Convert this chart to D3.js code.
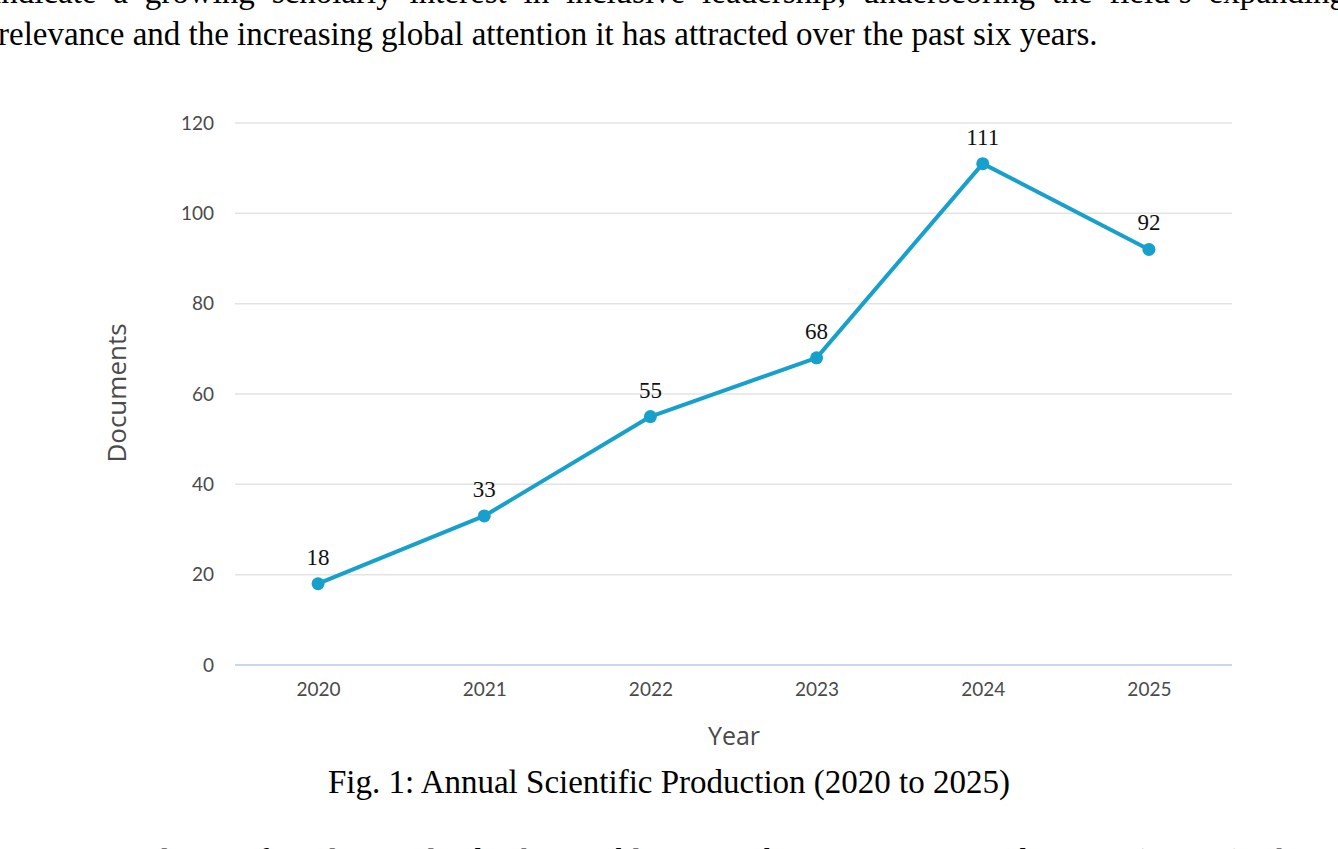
<!DOCTYPE html>
<html>
<head>
<meta charset="utf-8">
<script src="https://cdn.jsdelivr.net/npm/d3@7"></script>
<style>
  body { margin: 0; background: #fff; width: 1338px; height: 849px; overflow: hidden; position: relative; }
  #chart { position: absolute; left: 0; top: 0; }
</style>
</head>
<body>
<div id="chart"></div>
<script>
const years = ["2020", "2021", "2022", "2023", "2024", "2025"];
const documents = [18, 33, 55, 68, 111, 92];
const yTicks = [0, 20, 40, 60, 80, 100, 120];

const topLine1 = "indicate a growing scholarly interest in inclusive leadership, underscoring the field\u2019s expanding";
const topLine2 = "relevance and the increasing global attention it has attracted over the past six years.";
const captionText = "Fig. 1: Annual Scientific Production (2020 to 2025)";
const bottomLine = "An analysis of inclusive leadership publications between 2020 and 2025 (Fig. 2) shows";

const width = 1338, height = 849;
const serif = "'Liberation Serif', 'Times New Roman', serif";
const svg = d3.select("#chart").append("svg")
    .attr("width", width)
    .attr("height", height);

// surrounding paper text
function justifiedLine(str, x0, x1, baseline) {
    const words = str.split(" ");
    const g = svg.append("g");
    const nodes = words.map(w => g.append("text")
        .attr("y", baseline)
        .style("font-family", serif)
        .style("font-size", "33px")
        .style("fill", "#000")
        .text(w));
    const widths = nodes.map(n => n.node().getComputedTextLength());
    const gap = (x1 - x0 - d3.sum(widths)) / (words.length - 1);
    let x = x0;
    nodes.forEach((n, i) => { n.attr("x", x); x += widths[i] + gap; });
}
justifiedLine(topLine1, -8, 1346, 3);
svg.append("text")
    .attr("x", -2).attr("y", 45)
    .style("font-family", serif)
    .style("font-size", "33px")
    .text(topLine2);
justifiedLine(bottomLine, 55, 1346, 872);

svg.append("text")
    .attr("x", 669).attr("y", 793)
    .attr("text-anchor", "middle")
    .style("font-family", serif)
    .style("font-size", "33px")
    .text(captionText);

// chart
const x = d3.scalePoint()
    .domain(years)
    .range([235, 1232])
    .padding(0.5);

const y = d3.scaleLinear()
    .domain([0, 120])
    .range([665, 123]);

const tickFont = "Lato, 'Open Sans', sans-serif";

// gridlines
svg.append("g")
    .selectAll("line")
    .data(yTicks)
    .enter()
    .append("line")
    .attr("x1", 235)
    .attr("x2", 1232)
    .attr("y1", d => y(d))
    .attr("y2", d => y(d))
    .attr("stroke", d => d === 0 ? "#ccd6eb" : "#e3e3e3")
    .attr("stroke-width", d => d === 0 ? 2 : 1.5);

// y axis labels
const yAxis = svg.append("g")
    .attr("transform", "translate(214,0)")
    .call(d3.axisLeft(y).tickValues(yTicks).tickSize(0).tickPadding(0));
yAxis.select(".domain").remove();
yAxis.selectAll("text")
    .style("font-family", tickFont)
    .style("font-size", "19px")
    .style("fill", "#4a4a4a");

// x axis labels
const xAxis = svg.append("g")
    .attr("transform", "translate(0,665)")
    .call(d3.axisBottom(x).tickSize(0).tickPadding(18));
xAxis.select(".domain").remove();
xAxis.selectAll("text")
    .style("font-family", tickFont)
    .style("font-size", "19px")
    .style("fill", "#4a4a4a");

// axis titles
svg.append("text")
    .attr("x", 734).attr("y", 745)
    .attr("text-anchor", "middle")
    .style("font-family", "'Open Sans', sans-serif")
    .style("font-size", "25px")
    .style("fill", "#4a4a4a")
    .text("Year");

svg.append("text")
    .attr("transform", "translate(126,393) rotate(-90)")
    .attr("text-anchor", "middle")
    .style("font-family", "'Open Sans', sans-serif")
    .style("font-size", "26px")
    .style("fill", "#4a4a4a")
    .text("Documents");

const points = years.map((yr, i) => ({ year: yr, value: documents[i] }));

// line
svg.append("path")
    .datum(points)
    .attr("fill", "none")
    .attr("stroke", "#18a0cd")
    .attr("stroke-width", 4)
    .attr("stroke-linejoin", "round")
    .attr("d", d3.line().x(d => x(d.year)).y(d => y(d.value)));

// markers
svg.selectAll(".dot")
    .data(points)
    .enter()
    .append("circle")
    .attr("class", "dot")
    .attr("cx", d => x(d.year))
    .attr("cy", d => y(d.value))
    .attr("r", 6.5)
    .attr("fill", "#18a0cd");

// data labels
svg.selectAll(".label")
    .data(points)
    .enter()
    .append("text")
    .attr("class", "label")
    .attr("x", d => x(d.year))
    .attr("y", d => y(d.value) - 19)
    .attr("text-anchor", "middle")
    .style("font-family", serif)
    .style("font-size", "23px")
    .style("fill", "#111")
    .text(d => d.value);
</script>
</body>
</html>
